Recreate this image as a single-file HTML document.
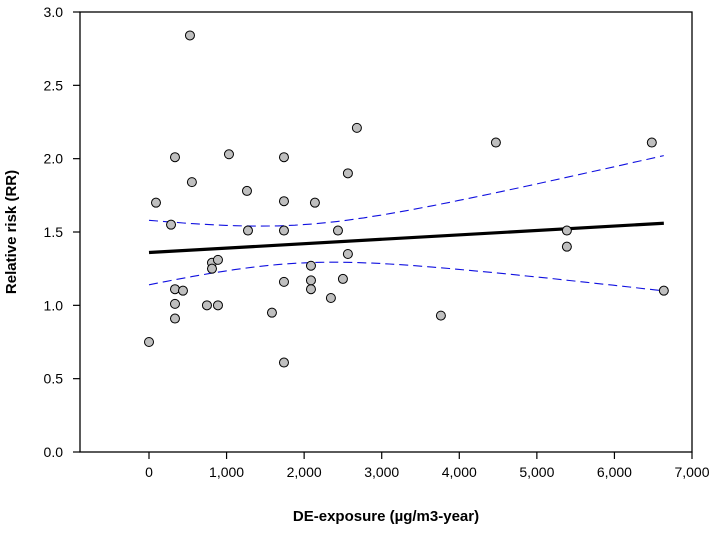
<!DOCTYPE html>
<html><head><meta charset="utf-8"><style>
body{margin:0;background:#fff;}
svg{display:block;font-family:"Liberation Sans",Arial,sans-serif;}
</style></head><body>
<svg id="chart" width="726" height="554"></svg>
<script>
const xs=[0,90,284,335,335,335,335,438,528,553,747,812,812,889,889,1031,1263,1276,1585,1740,1740,1740,1740,1740,2088,2088,2088,2139,2345,2436,2500,2564,2564,2680,3763,4472,5387,5387,6482,6637];
const ys=[0.75,1.70,1.55,2.01,1.11,1.01,0.91,1.10,2.84,1.84,1.00,1.29,1.25,1.31,1.00,2.03,1.78,1.51,0.95,2.01,1.71,1.51,1.16,0.61,1.27,1.17,1.11,1.70,1.05,1.51,1.18,1.90,1.35,2.21,0.93,2.11,1.51,1.40,2.11,1.10];
const fitIntercept=1.36, fitSlope=0.0000301;
const ciA=0.0169, ciB=0.00873, ciMean=1900;
const xTicks=[0,1000,2000,3000,4000,5000,6000,7000];
const xTickLabels=["0","1,000","2,000","3,000","4,000","5,000","6,000","7,000"];
const yTicks=[0,0.5,1,1.5,2,2.5,3];
const yTickLabels=["0.0","0.5","1.0","1.5","2.0","2.5","3.0"];

const NS="http://www.w3.org/2000/svg";
const svg=document.getElementById('chart');
const L=80,R=692,T=12,B=452;
const X0=149, XPER=(692-149)/7;
const sx=v=>X0+v/1000*XPER;
const sy=v=>B-(v/3)*(B-T);
function mk(tag,attrs,parent){const e=document.createElementNS(NS,tag);for(const k in attrs)e.setAttribute(k,attrs[k]);(parent||svg).appendChild(e);return e;}

let e=mk('rect',{x:L,y:T,width:R-L,height:B-T,fill:'none',stroke:'#000','stroke-width':1.3});



yTicks.forEach((v,i)=>{
  const t=mk('line',{x1:L-7,y1:sy(v),x2:L,y2:sy(v),stroke:'#000','stroke-width':1.2});
  
  
  const l=mk('text',{x:63,y:sy(v)+5,'text-anchor':'end','font-size':14});
  l.textContent=yTickLabels[i];
  
  
});
xTicks.forEach((v,i)=>{
  const t=mk('line',{x1:sx(v),y1:B,x2:sx(v),y2:B+7,stroke:'#000','stroke-width':1.2});
  
  
  const l=mk('text',{x:sx(v),y:B+25,'text-anchor':'middle','font-size':14});
  l.textContent=xTickLabels[i];
  
  
});

e=mk('text',{x:386,y:521,'text-anchor':'middle','font-size':15,'font-weight':'bold'});
e.textContent='DE-exposure (µg/m3-year)';


e=mk('text',{x:0,y:0,'text-anchor':'middle','font-size':15,'font-weight':'bold',transform:'translate(16,232) rotate(-90)'});
e.textContent='Relative risk (RR)';



const xmin=0,xmax=Math.max(...xs);
let up='',lo='';
for(let i=0;i<=60;i++){
  const x=xmin+(xmax-xmin)*i/60;
  const yh=fitIntercept+fitSlope*x;
  const d=(x-ciMean)/1000;
  const h=Math.sqrt(ciA+ciB*d*d);
  up+=(i?'L':'M')+sx(x).toFixed(1)+','+sy(yh+h).toFixed(1);
  lo+=(i?'L':'M')+sx(x).toFixed(1)+','+sy(yh-h).toFixed(1);
}
e=mk('path',{d:up,fill:'none',stroke:'#1010e0','stroke-width':1.1,'stroke-dasharray':'9,5'});


e=mk('path',{d:lo,fill:'none',stroke:'#1010e0','stroke-width':1.1,'stroke-dasharray':'9,5'});


e=mk('line',{x1:sx(xmin),y1:sy(fitIntercept+fitSlope*xmin),x2:sx(xmax),y2:sy(fitIntercept+fitSlope*xmax),stroke:'#000','stroke-width':3.2});



xs.forEach((x,i)=>{
  const c=mk('circle',{cx:sx(x),cy:sy(ys[i]),r:4.5,fill:'#bfbfbf',stroke:'#000','stroke-width':1});
  
  
});
</script>
</body></html>
